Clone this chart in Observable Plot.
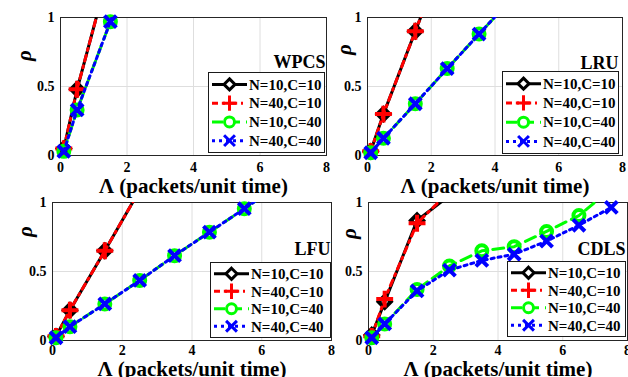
<!DOCTYPE html>
<html>
<head>
<meta charset="utf-8">
<script src="https://cdn.jsdelivr.net/npm/d3@7"></script>
<script src="https://cdn.jsdelivr.net/npm/@observablehq/plot@0.6"></script>
<style>
  html, body { margin: 0; padding: 0; background: #fff; }
  #root { position: relative; width: 628px; height: 377px; overflow: hidden; background: #fff; }
  #root svg { position: absolute; }
</style>
</head>
<body>
<div id="root"></div>
<script>
// ---------------- data ----------------
const seriesNames = ["N=10,C=10", "N=40,C=10", "N=10,C=40", "N=40,C=40"];
const panelTitles = ["WPCS", "LRU", "LFU", "CDLS"];
const lambdaValues = [0.1, 0.5, 1.5, 2.5, 3.5, 4.5, 5.5, 6.5, 7.5];
const xTicks = [0, 2, 4, 6, 8];
const yTicks = [0, 0.5, 1];
const xLabel = "Λ (packets/unit time)";
const yLabel = "ρ";

// rho values (first n lambda values); values > 1 are out of the axis range
const wpcs_n10c10 = [0.05, 0.48, 1.38];
const wpcs_n40c10 = [0.05, 0.48, 1.38];
const wpcs_n10c40 = [0.03, 0.33, 0.97, 1.60];
const wpcs_n40c40 = [0.03, 0.33, 0.97, 1.60];

const lru_n10c10 = [0.03, 0.30, 0.90, 1.50];
const lru_n40c10 = [0.03, 0.30, 0.90, 1.50];
const lru_n10c40 = [0.02, 0.125, 0.375, 0.63, 0.88, 1.13];
const lru_n40c40 = [0.02, 0.125, 0.375, 0.63, 0.88, 1.13];

const lfu_n10c10 = [0.03, 0.22, 0.65, 1.09];
const lfu_n40c10 = [0.03, 0.22, 0.65, 1.09];
const lfu_n10c40 = [0.02, 0.10, 0.265, 0.435, 0.615, 0.785, 0.955, 1.13];
const lfu_n40c40 = [0.02, 0.10, 0.265, 0.435, 0.615, 0.785, 0.955, 1.13];

const cdls_n10c10 = [0.04, 0.28, 0.87, 1.05];
const cdls_n40c10 = [0.03, 0.30, 0.85, 1.08];
const cdls_n10c40 = [0.02, 0.12, 0.37, 0.54, 0.65, 0.68, 0.79, 0.905, 1.10];
const cdls_n40c40 = [0.02, 0.12, 0.36, 0.51, 0.58, 0.625, 0.72, 0.835, 0.965];

const panelSeries = [
  [wpcs_n10c10, wpcs_n40c10, wpcs_n10c40, wpcs_n40c40],
  [lru_n10c10, lru_n40c10, lru_n10c40, lru_n40c40],
  [lfu_n10c10, lfu_n40c10, lfu_n10c40, lfu_n40c40],
  [cdls_n10c10, cdls_n40c10, cdls_n10c40, cdls_n40c40]
];

// ---------------- styles ----------------
const seriesColors = ["#000000", "#ff0000", "#00ff00", "#0000ff"];
const seriesDash = [null, "6,5,2,5", "11,6", "3,4"];
const seriesSymbols = ["diamond2", "plus", "circle", "times"];

// ---------------- layout (page pixels) ----------------
const layout = [
  {L: 60,  R: 326, T: 17,  B: 155, legend: [208, 72, 325, 153], ylab: [24, 55],  title: [325, 62], xlabDy: 31},
  {L: 367, R: 622, T: 17,  B: 155, legend: [502, 71, 619, 154], ylab: [344, 49], title: [618, 63], xlabDy: 31},
  {L: 52,  R: 331, T: 202, B: 340, legend: [210, 262, 331, 338], ylab: [25, 231], title: [330, 249], xlabDy: 29},
  {L: 368, R: 627, T: 202, B: 340, legend: [507, 261, 626, 337], ylab: [349, 233], title: [625, 249], xlabDy: 29}
];

const FONT = "'Liberation Serif', 'Times New Roman', serif";
const ml = 50, mr = 6, mt = 8, mb = 40;
const root = document.getElementById("root");

panelSeries.forEach((series, p) => {
  const g = layout[p];
  const rows = series.map((vals, s) => vals.map((v, i) => ({x: lambdaValues[i], y: v, s})));
  const marks = [
    Plot.gridX(xTicks.slice(1, -1), {stroke: "#dedede", strokeOpacity: 1, strokeWidth: 1}),
    Plot.gridY([0.5], {stroke: "#dedede", strokeOpacity: 1, strokeWidth: 1}),
    Plot.axisX(xTicks, {tickSize: 0, tickPadding: p < 2 ? 7 : 5, label: null, tickFormat: d => String(d), fontSize: 14}),
    Plot.axisY(yTicks, {tickSize: 0, tickPadding: 6, label: null, tickFormat: d => String(d), fontSize: 14}),
    Plot.frame({stroke: "#262626", strokeWidth: 1})
  ];
  rows.forEach((data, s) => {
    marks.push(Plot.line(data, {
      x: "x", y: "y", stroke: seriesColors[s], strokeWidth: 3,
      strokeDasharray: seriesDash[s], clip: true
    }));
    marks.push(Plot.dot(data, {
      x: "x", y: "y", symbol: seriesSymbols[s], r: 5.5,
      stroke: seriesColors[s], strokeWidth: 4, fill: "none",
      filter: d => d.y <= 1
    }));
  });
  marks.push(Plot.text([panelTitles[p]], {
    frameAnchor: "top-left", dx: g.title[0] - g.L, dy: g.title[1] - g.T,
    textAnchor: "end", lineAnchor: "middle", fontSize: 18, fontWeight: "bold"
  }));
  marks.push(Plot.text([xLabel], {
    frameAnchor: "bottom", dy: g.xlabDy, textAnchor: "middle", lineAnchor: "middle",
    fontSize: 21, fontWeight: "bold"
  }));
  marks.push(Plot.text([yLabel], {
    frameAnchor: "top-left", dx: g.ylab[0] - g.L, dy: g.ylab[1] - g.T,
    textAnchor: "middle", lineAnchor: "middle", rotate: -90,
    fontSize: 21, fontStyle: "italic", fontWeight: "bold"
  }));

  const svg = Plot.plot({
    width: (g.R - g.L) + ml + mr,
    height: (g.B - g.T) + mt + mb,
    marginLeft: ml, marginRight: mr, marginTop: mt, marginBottom: mb,
    x: {domain: [0, 8]},
    y: {domain: [0, 1]},
    style: {fontFamily: FONT, fontWeight: "bold", fontSize: "14px", background: "none", overflow: "visible", color: "#000"},
    marks
  });
  const ox = g.L - ml, oy = g.T - mt;
  svg.style.left = ox + "px";
  svg.style.top = oy + "px";

  // legend box
  const [lx0, ly0, lx1, ly1] = g.legend;
  const lg = d3.select(svg).append("g")
    .attr("transform", `translate(${lx0 - ox},${ly0 - oy})`)
    .attr("text-anchor", "start");
  const w = lx1 - lx0, h = ly1 - ly0;
  lg.append("rect").attr("x", 0.5).attr("y", 0.5).attr("width", w - 1).attr("height", h - 1)
    .attr("fill", "#fff").attr("stroke", "#1a1a1a").attr("stroke-width", 1);
  const rowH = (h - 6) / 4;
  seriesNames.forEach((name, s) => {
    const cy = 3 + rowH * (s + 0.5);
    const row = lg.append("g").attr("transform", `translate(0,${cy})`);
    row.append("line").attr("x1", 4).attr("x2", 39).attr("y1", 0).attr("y2", 0)
      .attr("stroke", seriesColors[s]).attr("stroke-width", 3)
      .attr("stroke-dasharray", seriesDash[s]);
    const sym = {diamond2: d3.symbolDiamond2, plus: d3.symbolPlus, circle: d3.symbolCircle, times: d3.symbolTimes}[seriesSymbols[s]];
    row.append("path").attr("transform", "translate(21.5,0)")
      .attr("d", d3.symbol(sym, Math.PI * 25)())
      .attr("fill", "#fff").attr("stroke", seriesColors[s]).attr("stroke-width", 3);
    row.append("text").attr("x", 41).attr("y", 0).attr("dy", "0.35em")
      .attr("text-anchor", "start")
      .attr("font-size", 15).attr("font-weight", "bold").attr("font-family", FONT)
      .attr("fill", "#000").text(name);
  });
  root.appendChild(svg);
});
</script>
</body>
</html>
